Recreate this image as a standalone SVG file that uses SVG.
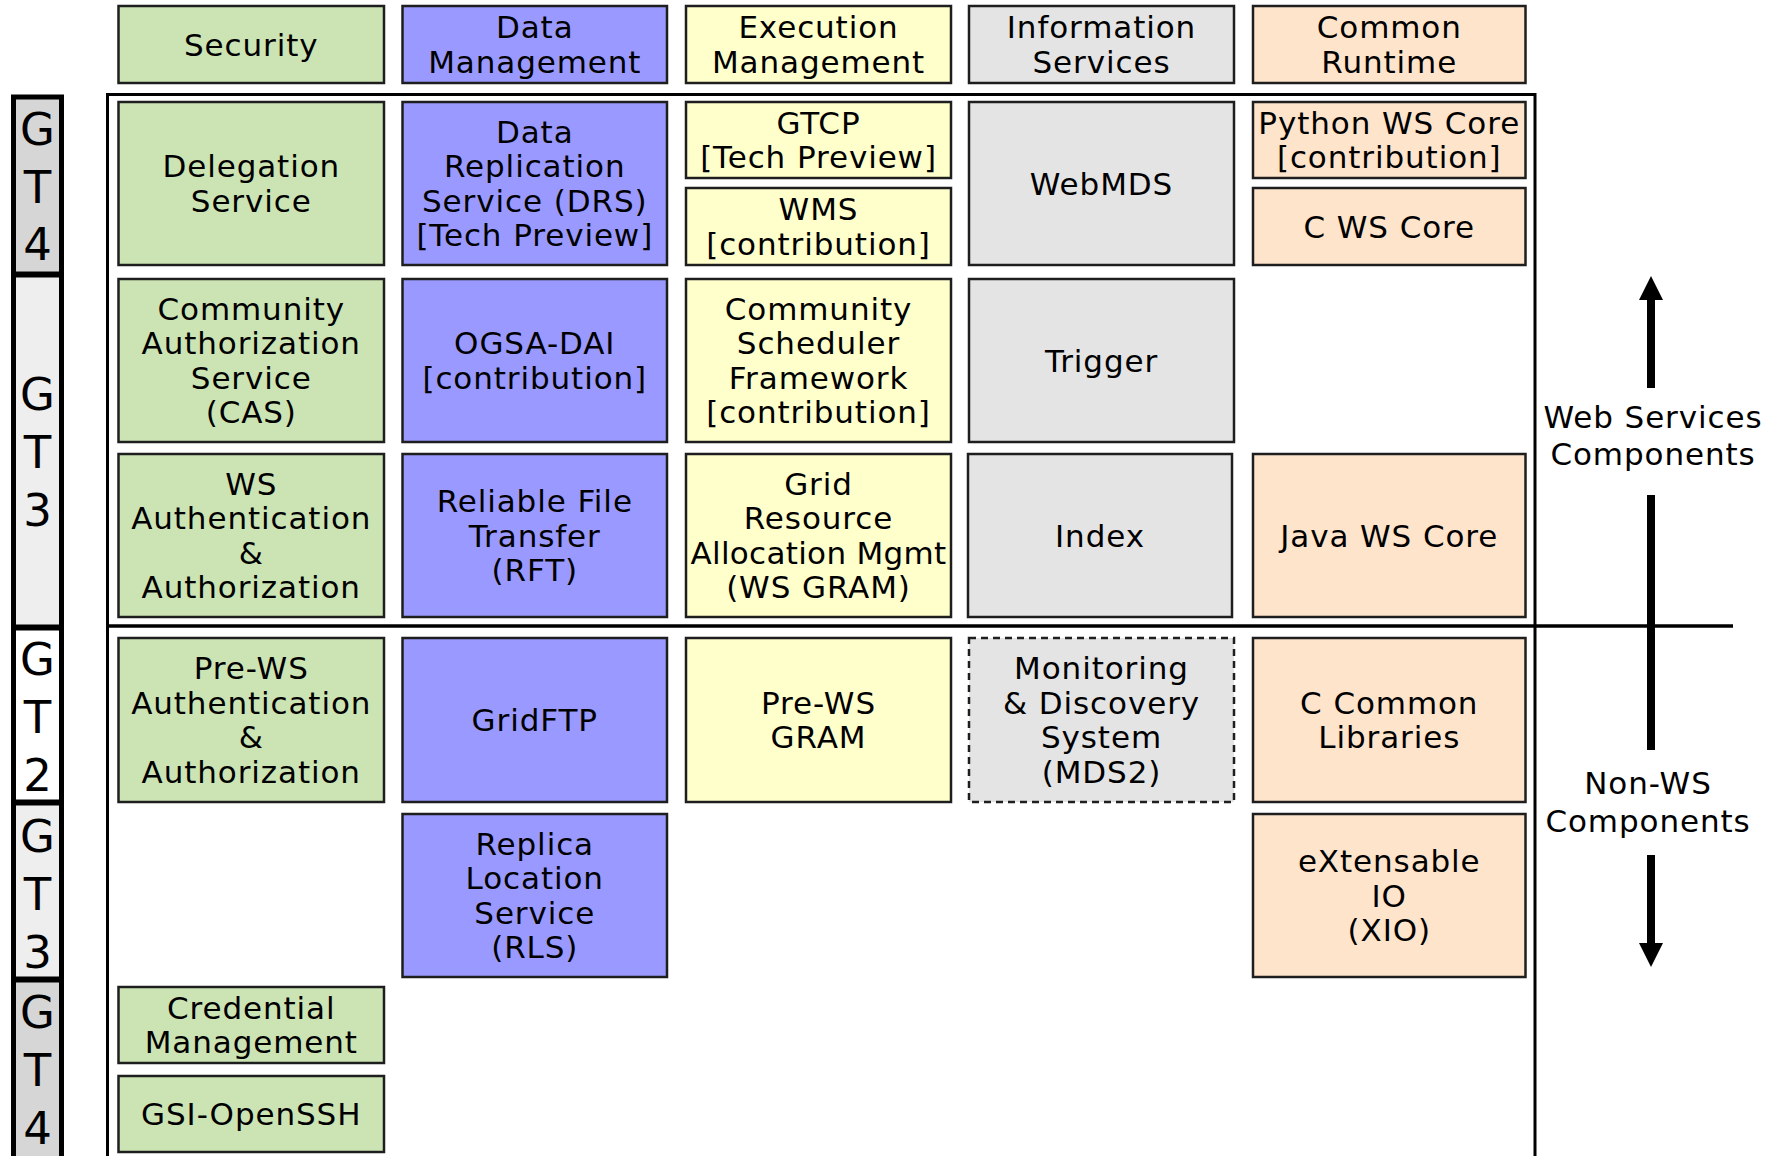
<svg xmlns="http://www.w3.org/2000/svg" width="1767" height="1156" viewBox="0 0 1767 1156">
<defs>
<style>
.b{stroke:#1e1e1e;stroke-width:2.5}
.sec{fill:#cce4b4}
.dat{fill:#9999ff}
.exe{fill:#ffffcc}
.inf{fill:#e4e4e4}
.com{fill:#ffe4cc}
.dash{stroke-dasharray:7,5}
.t{font-family:"DejaVu Sans","Verdana","Liberation Sans",sans-serif;font-size:31px;letter-spacing:0.9px;text-anchor:middle;fill:#000}
.g{font-family:"DejaVu Sans","Verdana","Liberation Sans",sans-serif;font-size:45px;text-anchor:middle;fill:#000}
.lab{stroke:#000;stroke-width:5}
.frame{fill:none;stroke:#000;stroke-width:3}
.shaft{stroke:#000;stroke-width:8;fill:none}
</style>
<marker id="ah" markerUnits="userSpaceOnUse" markerWidth="24" markerHeight="24" viewBox="0 0 24 24" refX="0" refY="12" orient="auto">
<path d="M0,0 L24,12 L0,24 z" fill="#000"/>
</marker>
</defs>
<rect width="1767" height="1156" fill="#fff"/>

<!-- version labels -->
<g id="label-gt4-top">
<rect class="lab" x="13.5" y="97" width="48" height="177" fill="#d6d6d6"/>
<text class="g" x="37.5" y="145">G</text><text class="g" x="37.5" y="203">T</text><text class="g" x="37.5" y="260">4</text>
</g>
<g id="label-gt3-ws">
<rect class="lab" x="13.5" y="275" width="48" height="352" fill="#eeeeee"/>
<text class="g" x="37.5" y="410">G</text><text class="g" x="37.5" y="468">T</text><text class="g" x="37.5" y="526">3</text>
</g>
<g id="label-gt2">
<rect class="lab" x="13.5" y="628" width="48" height="174" fill="#ffffff"/>
<text class="g" x="37.5" y="675">G</text><text class="g" x="37.5" y="733">T</text><text class="g" x="37.5" y="791">2</text>
</g>
<g id="label-gt3-nonws">
<rect class="lab" x="13.5" y="803" width="48" height="176" fill="#eeeeee"/>
<text class="g" x="37.5" y="852">G</text><text class="g" x="37.5" y="910">T</text><text class="g" x="37.5" y="968">3</text>
</g>
<g id="label-gt4-bottom">
<rect class="lab" x="13.5" y="980" width="48" height="185" fill="#d6d6d6"/>
<text class="g" x="37.5" y="1028">G</text><text class="g" x="37.5" y="1086">T</text><text class="g" x="37.5" y="1144">4</text>
</g>

<!-- frame -->
<g id="frame">
<path class="frame" d="M107.5,1160 V94.5 H1535 V1160"/>
</g>

<!-- headers -->
<g id="hdr-security"><rect class="b sec" x="118.5" y="6" width="265.5" height="77"/><text class="t" x="251.25" y="55.5">Security</text></g>
<g id="hdr-data"><rect class="b dat" x="402.5" y="6" width="264.5" height="77"/><text class="t" x="534.75" y="38.25">Data</text><text class="t" x="534.75" y="72.75">Management</text></g>
<g id="hdr-exec"><rect class="b exe" x="686" y="6" width="265" height="77"/><text class="t" x="818.5" y="38.25">Execution</text><text class="t" x="818.5" y="72.75">Management</text></g>
<g id="hdr-info"><rect class="b inf" x="969" y="6" width="265" height="77"/><text class="t" x="1101.5" y="38.25">Information</text><text class="t" x="1101.5" y="72.75">Services</text></g>
<g id="hdr-common"><rect class="b com" x="1253" y="6" width="272.5" height="77"/><text class="t" x="1389.25" y="38.25">Common</text><text class="t" x="1389.25" y="72.75">Runtime</text></g>

<!-- row 1 -->
<g id="delegation"><rect class="b sec" x="118.5" y="102" width="265.5" height="163"/><text class="t" x="251.25" y="177.25">Delegation</text><text class="t" x="251.25" y="211.75">Service</text></g>
<g id="drs"><rect class="b dat" x="402.5" y="102" width="264.5" height="163"/><text class="t" x="534.75" y="142.75">Data</text><text class="t" x="534.75" y="177.25">Replication</text><text class="t" x="534.75" y="211.75">Service (DRS)</text><text class="t" x="534.75" y="246.25">[Tech Preview]</text></g>
<g id="gtcp"><rect class="b exe" x="686" y="102" width="265" height="76"/><text class="t" x="818.5" y="133.75">GTCP</text><text class="t" x="818.5" y="168.25">[Tech Preview]</text></g>
<g id="wms"><rect class="b exe" x="686" y="188" width="265" height="77"/><text class="t" x="818.5" y="220.25">WMS</text><text class="t" x="818.5" y="254.75">[contribution]</text></g>
<g id="webmds"><rect class="b inf" x="969" y="102" width="265" height="163"/><text class="t" x="1101.5" y="194.5">WebMDS</text></g>
<g id="python-ws-core"><rect class="b com" x="1253" y="102" width="272.5" height="76"/><text class="t" x="1389.25" y="133.75">Python WS Core</text><text class="t" x="1389.25" y="168.25">[contribution]</text></g>
<g id="c-ws-core"><rect class="b com" x="1253" y="188" width="272.5" height="77"/><text class="t" x="1389.25" y="237.5">C WS Core</text></g>

<!-- row 2 -->
<g id="cas"><rect class="b sec" x="118.5" y="279" width="265.5" height="163"/><text class="t" x="251.25" y="319.75">Community</text><text class="t" x="251.25" y="354.25">Authorization</text><text class="t" x="251.25" y="388.75">Service</text><text class="t" x="251.25" y="423.25">(CAS)</text></g>
<g id="ogsa-dai"><rect class="b dat" x="402.5" y="279" width="264.5" height="163"/><text class="t" x="534.75" y="354.25">OGSA-DAI</text><text class="t" x="534.75" y="388.75">[contribution]</text></g>
<g id="csf"><rect class="b exe" x="686" y="279" width="265" height="163"/><text class="t" x="818.5" y="319.75">Community</text><text class="t" x="818.5" y="354.25">Scheduler</text><text class="t" x="818.5" y="388.75">Framework</text><text class="t" x="818.5" y="423.25">[contribution]</text></g>
<g id="trigger"><rect class="b inf" x="969" y="279" width="265" height="163"/><text class="t" x="1101.5" y="371.5">Trigger</text></g>

<!-- row 3 -->
<g id="ws-authn-authz"><rect class="b sec" x="118.5" y="454" width="265.5" height="163"/><text class="t" x="251.25" y="494.75">WS</text><text class="t" x="251.25" y="529.25">Authentication</text><text class="t" x="251.25" y="563.75">&amp;</text><text class="t" x="251.25" y="598.25">Authorization</text></g>
<g id="rft"><rect class="b dat" x="402.5" y="454" width="264.5" height="163"/><text class="t" x="534.75" y="512">Reliable File</text><text class="t" x="534.75" y="546.5">Transfer</text><text class="t" x="534.75" y="581">(RFT)</text></g>
<g id="ws-gram"><rect class="b exe" x="686" y="454" width="265" height="163"/><text class="t" x="818.5" y="494.75">Grid</text><text class="t" x="818.5" y="529.25">Resource</text><text class="t" x="818.5" y="563.75" style="letter-spacing:0.3px">Allocation Mgmt</text><text class="t" x="818.5" y="598.25">(WS GRAM)</text></g>
<g id="index"><rect class="b inf" x="968" y="454" width="264" height="163"/><text class="t" x="1100" y="546.5">Index</text></g>
<g id="java-ws-core"><rect class="b com" x="1253" y="454" width="272.5" height="163"/><text class="t" x="1389.25" y="546.5">Java WS Core</text></g>

<!-- row 4 -->
<g id="prews-authn-authz"><rect class="b sec" x="118.5" y="638" width="265.5" height="164"/><text class="t" x="251.25" y="679.25">Pre-WS</text><text class="t" x="251.25" y="713.75">Authentication</text><text class="t" x="251.25" y="748.25">&amp;</text><text class="t" x="251.25" y="782.75">Authorization</text></g>
<g id="gridftp"><rect class="b dat" x="402.5" y="638" width="264.5" height="164"/><text class="t" x="534.75" y="731">GridFTP</text></g>
<g id="prews-gram"><rect class="b exe" x="686" y="638" width="265" height="164"/><text class="t" x="818.5" y="713.75">Pre-WS</text><text class="t" x="818.5" y="748.25">GRAM</text></g>
<g id="mds2"><rect class="b inf dash" x="969" y="638" width="265" height="164"/><text class="t" x="1101.5" y="679.25">Monitoring</text><text class="t" x="1101.5" y="713.75">&amp; Discovery</text><text class="t" x="1101.5" y="748.25">System</text><text class="t" x="1101.5" y="782.75">(MDS2)</text></g>
<g id="c-common-libs"><rect class="b com" x="1253" y="638" width="272.5" height="164"/><text class="t" x="1389.25" y="713.75">C Common</text><text class="t" x="1389.25" y="748.25">Libraries</text></g>

<!-- row 5 -->
<g id="rls"><rect class="b dat" x="402.5" y="814" width="264.5" height="163"/><text class="t" x="534.75" y="854.75">Replica</text><text class="t" x="534.75" y="889.25">Location</text><text class="t" x="534.75" y="923.75">Service</text><text class="t" x="534.75" y="958.25">(RLS)</text></g>
<g id="xio"><rect class="b com" x="1253" y="814" width="272.5" height="163"/><text class="t" x="1389.25" y="872">eXtensable</text><text class="t" x="1389.25" y="906.5">IO</text><text class="t" x="1389.25" y="941">(XIO)</text></g>

<!-- row 6/7 -->
<g id="credential-mgmt"><rect class="b sec" x="118.5" y="987" width="265.5" height="76"/><text class="t" x="251.25" y="1018.75">Credential</text><text class="t" x="251.25" y="1053.25">Management</text></g>
<g id="gsi-openssh"><rect class="b sec" x="118.5" y="1076" width="265.5" height="76"/><text class="t" x="251.25" y="1125">GSI-OpenSSH</text></g>

<!-- side annotations -->
<g id="ws-label"><text class="t" x="1653" y="428">Web Services</text><text class="t" x="1653" y="465">Components</text></g>
<g id="nonws-label"><text class="t" x="1648" y="794">Non-WS</text><text class="t" x="1648" y="832">Components</text></g>

<!-- connectors -->
<g id="connectors">
<line x1="107.5" y1="626" x2="1733" y2="626" stroke="#000" stroke-width="3.5"/>
<line class="shaft" x1="1651" y1="388" x2="1651" y2="300" marker-end="url(#ah)"/>
<line class="shaft" x1="1651" y1="495" x2="1651" y2="750"/>
<line class="shaft" x1="1651" y1="855" x2="1651" y2="943" marker-end="url(#ah)"/>
</g>
</svg>
